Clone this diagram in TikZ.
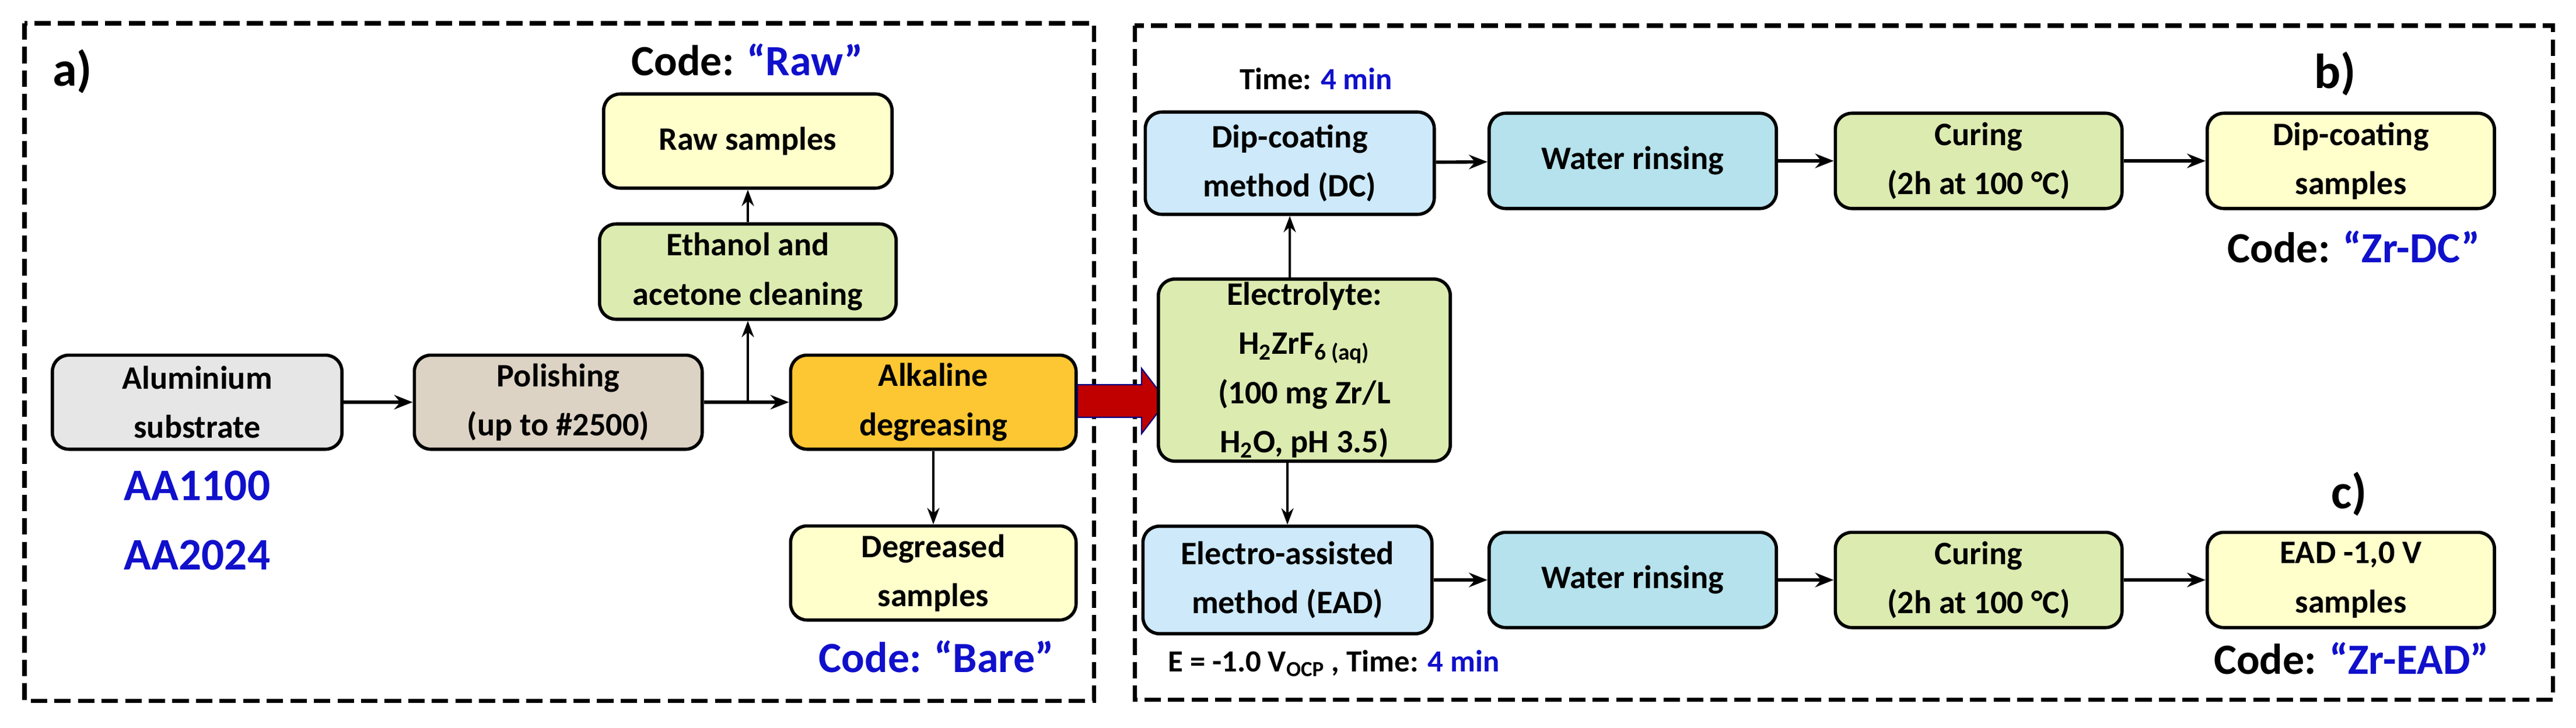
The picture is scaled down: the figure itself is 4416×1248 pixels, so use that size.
\documentclass[tikz,border=0pt]{standalone}
\usepackage{fontspec}
\setmainfont{Carlito}
\usetikzlibrary{arrows.meta}
\definecolor{cyel}{HTML}{FFFFCC}
\definecolor{cgrn}{HTML}{DCEBB0}
\definecolor{cblu}{HTML}{CDE9FA}
\definecolor{cora}{HTML}{FDC733}
\definecolor{cwat}{HTML}{B5E2EC}
\definecolor{calu}{HTML}{E6E6E6}
\definecolor{cpol}{HTML}{DDD3C4}
\definecolor{cbl}{HTML}{1010CC}
\definecolor{cred}{HTML}{C00000}
\begin{document}
\begin{tikzpicture}[x=0.01cm,y=-0.01cm,
  box/.style={draw=black,line width=1.6pt,rounded corners=8pt,align=center,font=\fontsize{16}{24}\selectfont\bfseries,inner sep=0pt},
  lab/.style={font=\fontsize{21}{24}\selectfont\bfseries},
  sm/.style={font=\fontsize{15}{18}\selectfont\bfseries},
  arr/.style={line width=1.6pt,-{Stealth[length=9pt,width=7pt]}},
  arrt/.style={line width=0.9pt,-{Stealth[length=8pt,width=6pt]}},
  frame/.style={draw,line width=2pt,dash pattern=on 8pt off 3.5pt}]
\useasboundingbox (0,0) rectangle (4416,1248);
\draw[frame] (42,40) rectangle (1875,1202);
\draw[frame] (1945,44) rectangle (4376,1200);
\def\bx#1#2#3#4#5#6#7{\node[box,fill=#6,minimum width=#3*0.01cm-0.056cm,minimum height=#4*0.01cm-0.056cm] (#5) at (#1,#2) {#7};}
% left
\bx{338}{690}{502}{167}{alu}{calu}{Aluminium\\substrate}
\bx{957}{690}{499}{167}{pol}{cpol}{Polishing\\(up to \#2500)}
\bx{1600}{690}{495}{167}{alk}{cora}{Alkaline\\degreasing}
\bx{1282}{466}{514}{169}{eth}{cgrn}{Ethanol and\\acetone cleaning}
\bx{1282}{242}{500}{167}{raw}{cyel}{Raw samples}
\bx{1600}{983}{495}{167}{deg}{cyel}{Degreased\\samples}
\node[lab] (craw) at (1281,103) {Code: \textcolor{cbl}{“Raw”}};
\node[lab,text=cbl] (cbare) at (1605,1126) {Code: “Bare”};
\node[lab,text=cbl,align=center,font=\fontsize{22}{34}\selectfont\bfseries] (aa) at (338,893) {AA1100\\AA2024};
\node[font=\fontsize{24}{28}\selectfont\bfseries] (la) at (124,123) {a)};
\draw[arr] (alu) -- (pol);
\draw[arr] (pol) -- (alk);
\coordinate (j) at (1282,690);
\draw[arrt] (j) -- (eth);
\draw[arrt] (eth) -- (raw);
\draw[arrt] (alk) -- (deg);
% red arrow
\fill[cred,draw=blue!50!black,line width=0.6pt] (1847,660) -- (1957,660) -- (1957,632) -- (2000,688) -- (1957,744) -- (1957,716) -- (1847,716) -- cycle;
% right
\bx{2211}{280}{501}{181}{dc}{cblu}{Dip-coating\\method (DC)}
\bx{2799}{276}{498}{169}{w1}{cwat}{Water rinsing}
\bx{3392}{276}{497}{169}{c1}{cgrn}{Curing\\(2h at 100 °C)}
\bx{4030}{276}{498}{169}{s1}{cyel}{Dip-coating\\samples}
\bx{2236}{635}{506}{318}{el}{cgrn}{Electrolyte:\\H\textsubscript{2}ZrF\textsubscript{6 (aq)}\\(100 mg Zr/L\\H\textsubscript{2}O, pH 3.5)}
\bx{2207}{995}{501}{190}{ead}{cblu}{Electro-assisted\\method (EAD)}
\bx{2799}{995}{498}{169}{w2}{cwat}{Water rinsing}
\bx{3392}{995}{497}{169}{c2}{cgrn}{Curing\\(2h at 100 °C)}
\bx{4030}{995}{498}{169}{s2}{cyel}{EAD -1,0 V\\samples}
\node[sm] (t1) at (2256,135) {Time: \textcolor{cbl}{4 min}};
\node[sm,anchor=west] (t2) at (1990,1138) {E = -1.0 V\textsubscript{OCP} , Time: \textcolor{cbl}{4 min}};
\node[lab] (cdc) at (4035,424) {Code: \textcolor{cbl}{“Zr-DC”}};
\node[lab] (cead) at (4031,1129) {Code: \textcolor{cbl}{“Zr-EAD”}};
\node[font=\fontsize{24}{28}\selectfont\bfseries] (lb) at (4003,127) {b)};
\node[font=\fontsize{24}{28}\selectfont\bfseries] (lc) at (4027,848) {c)};
\draw[arr] (dc) -- (w1); \draw[arr] (w1) -- (c1); \draw[arr] (c1) -- (s1);
\draw[arr] (ead) -- (w2); \draw[arr] (w2) -- (c2); \draw[arr] (c2) -- (s2);
\draw[arrt] (el.north -| dc.south) -- (dc.south);
\draw[arrt] (el.south -| ead.north) -- (ead.north);
\end{tikzpicture}
\end{document}
